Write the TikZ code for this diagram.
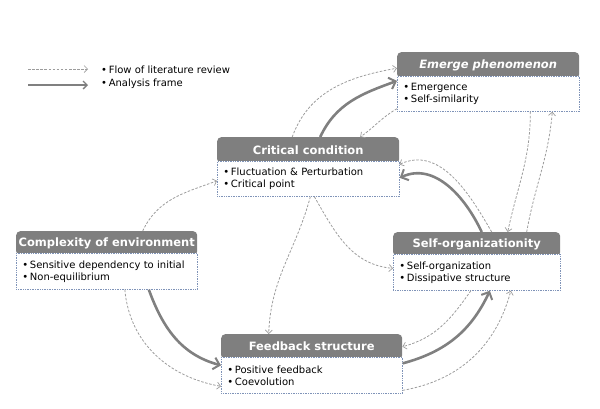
\documentclass[tikz,border=0pt]{standalone}
\usepackage{fontspec}
\setmainfont{DejaVu Sans}
\usepackage{xcolor}
\usetikzlibrary{positioning, arrows.meta}
\definecolor{headgray}{HTML}{7F7F7F}
\definecolor{framegray}{HTML}{808080}
\definecolor{flowgray}{HTML}{9C9C9C}
\definecolor{dotblue}{HTML}{7F93B8}

\tikzset{
  head/.style={fill=headgray, rounded corners=4pt, anchor=north west, inner sep=0pt,
               font=\bfseries\fontsize{11.5}{13}\selectfont, text=white},
  body/.style={fill=white, draw=dotblue, densely dotted, line width=0.7pt, anchor=north west,
               inner xsep=6pt, inner ysep=0pt, align=left,
               font=\fontsize{10}{12}\selectfont},
  frame/.style={draw=framegray, line width=2.6pt, -{Straight Barb[length=6pt,width=12pt,line width=2pt]}},
  flow/.style={draw=flowgray, line width=0.8pt, dash pattern=on 2.5pt off 1.6pt,
               -{Straight Barb[length=3.5pt,width=7pt,line width=0.7pt]}},
}

\begin{document}
\begin{tikzpicture}[x=1pt, y=1pt]
  \useasboundingbox (0,0) rectangle (600,-408);

  % legend
  \coordinate (lda) at (28,-69);  \coordinate (ldb) at (88,-69);
  \coordinate (lsa) at (28,-85);  \coordinate (lsb) at (88,-85);
  \draw[flow] (lda) -- (ldb);
  \draw[draw=framegray, line width=1.4pt, -{Straight Barb[length=4pt,width=8pt]}] (lsa) -- (lsb);
  \node[anchor=west, inner sep=0pt, font=\fontsize{10}{12}\selectfont] (legd) at (101,-70) {•\,Flow of literature review};
  \node[anchor=west, inner sep=0pt, font=\fontsize{10}{12}\selectfont] (legs) at (101,-84) {•\,Analysis frame};

  % boxes
  \node[head, minimum width=182pt, minimum height=26pt] (emh) at (397,-52) {\itshape Emerge phenomenon};
  \node[body, text width=170pt, minimum height=35pt] (emb) at (397,-76) {•\,Emergence\\•\,Self-similarity};

  \node[head, minimum width=182pt, minimum height=26pt] (crith) at (217,-137) {Critical condition};
  \node[body, text width=170pt, minimum height=35pt] (critb) at (217,-161) {•\,Fluctuation \& Perturbation\\•\,Critical point};

  \node[head, minimum width=181pt, minimum height=24pt] (comph) at (16,-231) {Complexity of environment};
  \node[body, text width=169pt, minimum height=36pt] (compb) at (16,-253) {•\,Sensitive dependency to initial\\•\,Non-equilibrium};

  \node[head, minimum width=167pt, minimum height=24pt] (soh) at (393,-232) {Self-organizationity};
  \node[body, text width=155pt, minimum height=36pt] (sob) at (393,-254) {•\,Self-organization\\•\,Dissipative structure};

  \node[head, minimum width=181pt, minimum height=25pt] (fbh) at (221,-334) {Feedback structure};
  \node[body, text width=169pt, minimum height=36pt] (fbb) at (221,-357) {•\,Positive feedback\\•\,Coevolution};

  % flow of literature review
  \draw[flow] ([xshift=36pt]comph.north) to[out=65, in=200] ([yshift=-2pt]critb.west);
  \draw[flow] ([xshift=18pt]compb.south) to[out=-85, in=170] ([yshift=-11pt]fbb.west);
  \draw[flow] ([xshift=-16pt]crith.north) to[out=70, in=190] ([yshift=-3pt]emh.west);
  \draw[flow] ([yshift=3pt]emb.south west) to[out=-150, in=35] ([xshift=52pt]crith.north);
  \draw[flow] ([xshift=2pt]critb.south) to[out=-105, in=88] ([xshift=-43pt]fbh.north);
  \draw[flow] ([xshift=6pt]critb.south) to[out=-60, in=175] ([yshift=4pt]sob.west);
  \draw[flow] ([xshift=15pt]soh.north) to[out=120, in=25] ([yshift=-1pt]crith.south east);
  \draw[flow] ([xshift=42pt]emb.south) to[out=-90, in=78] ([xshift=31pt]soh.north);
  \draw[flow] ([xshift=50pt]soh.north) to[out=80, in=-95] ([xshift=64pt]emb.south);
  \draw[flow] ([xshift=-6pt]sob.south) to[out=-125, in=15] (fbh.east);
  \draw[flow] ([yshift=-15pt]fbb.east) to[out=10, in=-105] ([xshift=34pt]sob.south);

  % analysis frame
  \draw[frame] ([xshift=42pt]compb.south) to[out=-70, in=165] ([yshift=10pt]fbb.west);
  \draw[frame] ([yshift=12pt]fbb.east) to[out=15, in=-115] ([xshift=13pt]sob.south);
  \draw[frame] ([xshift=5pt]soh.north) to[out=115, in=25] ([yshift=1pt]critb.east);
  \draw[frame] ([xshift=12pt]crith.north) to[out=65, in=200] ([yshift=13pt]emb.west);
\end{tikzpicture}
\end{document}
